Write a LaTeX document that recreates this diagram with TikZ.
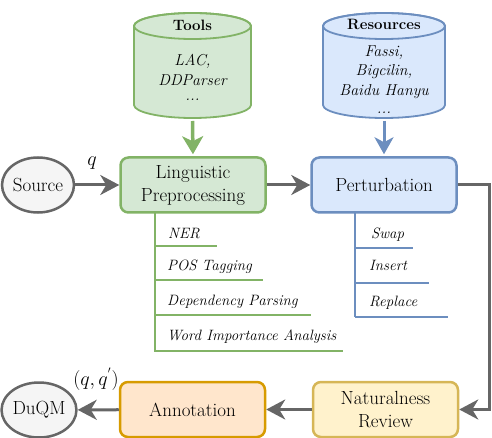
\RequirePackage{fix-cm}
\documentclass[tikz,border=0pt]{standalone}
\usepackage{fontspec}
\setmainfont{Latin Modern Roman}
\usetikzlibrary{arrows.meta,shapes.geometric}
\definecolor{gfill}{HTML}{D5E8D4}
\definecolor{gdraw}{HTML}{82B366}
\definecolor{bfill}{HTML}{DAE8FC}
\definecolor{bdraw}{HTML}{6C8EBF}
\definecolor{yfill}{HTML}{FFF2CC}
\definecolor{ydraw}{HTML}{D6B656}
\definecolor{ofill}{HTML}{FFE6CC}
\definecolor{odraw}{HTML}{D79B00}
\definecolor{efill}{HTML}{F5F5F5}
\definecolor{edraw}{HTML}{666666}
\begin{document}
\begin{tikzpicture}[x=1pt,y=-1pt,
  box/.style={draw, rounded corners=8pt, line width=2.5pt, minimum height=55pt,
    minimum width=145pt, align=center, inner sep=0pt,
    font=\fontsize{19}{23}\selectfont},
  gbox/.style={box, fill=gfill, draw=gdraw},
  bbox/.style={box, fill=bfill, draw=bdraw},
  ybox/.style={box, fill=yfill, draw=ydraw},
  obox/.style={box, fill=ofill, draw=odraw},
  ell/.style={ellipse, draw=edraw, fill=efill, line width=2.5pt, inner sep=0pt,
    minimum width=72pt, minimum height=55pt, font=\fontsize{19}{22}\selectfont},
  garrow/.style={draw=edraw, line width=3pt, -{Stealth[length=19pt,width=20pt,inset=6pt]}},
  cyl/.style={line width=1.8pt},
  cyltitle/.style={inner sep=0pt, font=\bfseries\fontsize{15}{18}\selectfont},
  cyltext/.style={inner sep=0pt, font=\itshape\fontsize{15.8}{18}\selectfont},
  subtext/.style={anchor=base west, font=\itshape\fontsize{15}{18}\selectfont, inner sep=0pt},
  gline/.style={draw=gdraw, line width=2.8pt},
  bline/.style={draw=bdraw, line width=2.8pt},
  mlabel/.style={inner sep=0pt, font=\fontsize{20}{20}\selectfont},
]
\useasboundingbox (0,0) rectangle (492,438);

% Tools cylinder
\path[cyl, fill=gfill, draw=gdraw] (134,26) -- (134,105)
  arc[start angle=180, end angle=360, x radius=58.5pt, y radius=13pt]
  -- (251,26)
  arc[start angle=0, end angle=180, x radius=58.5pt, y radius=13pt] -- cycle;
\draw[cyl, draw=gdraw] (192.5,26) ellipse [x radius=58.5pt, y radius=13pt];
\node[cyltitle] (toolst) at (192.5,25) {Tools};
\node[cyltext] (lac) at (192.5,61) {LAC,};
\node[cyltext] (ddp) at (192.5,80) {DDParser};
\node[cyltext] (tdots) at (192.5,100) {...};

% Resources cylinder
\path[cyl, fill=bfill, draw=bdraw] (323,26) -- (323,105)
  arc[start angle=180, end angle=360, x radius=61pt, y radius=13pt]
  -- (445,26)
  arc[start angle=0, end angle=180, x radius=61pt, y radius=13pt] -- cycle;
\draw[cyl, draw=bdraw] (384,26) ellipse [x radius=61pt, y radius=13pt];
\node[cyltitle] (rest) at (384,24) {Resources};
\node[cyltext] (fassi) at (384,53) {Fassi,};
\node[cyltext] (bigc) at (384,72) {Bigcilin,};
\node[cyltext] (baidu) at (384,92) {Baidu Hanyu};
\node[cyltext] (rdots) at (384,113) {...};

% main nodes
\node[gbox] (ling) at (193,185) {Linguistic\\Preprocessing};
\node[bbox] (pert) at (384,185) {Perturbation};
\node[ybox] (nat) at (385.5,409.5) {Naturalness\\Review};
\node[obox] (ann) at (192.5,409.5) {Annotation};
\node[ell] (src) at (38,185) {Source};
\node[ell] (duqm) at (39,410) {DuQM};

% feed arrows from cylinders
\coordinate (toolsb) at (192.5,121);
\coordinate (resb) at (384,121);
\draw[draw=gdraw, line width=3.5pt, -{Stealth[length=18pt,width=21pt,inset=5pt]}, shorten >=2pt] (toolsb) -- (ling.north);
\draw[draw=bdraw, line width=3pt, -{Stealth[length=17pt,width=19pt,inset=5pt]}, shorten >=2pt] (resb) -- (pert.north);

% flow arrows
\draw[garrow] (src) -- (ling);
\draw[garrow] (ling) -- (pert);
\coordinate (rc) at (489,185);
\draw[garrow] (pert.east) -- (rc) |- (nat.east);
\draw[garrow] (nat) -- (ann);
\draw[garrow] (ann) -- (duqm);

% labels
\node[mlabel] (ql) at (92,163) {$q$};
\node[mlabel] (qql) at (96,379) {$(q,q^{'})$};

% linguistic sub items
\draw[gline] (155,213) -- (155,352);
\draw[gline] (155,246) -- (217,246);
\draw[gline] (155,280) -- (263,280);
\draw[gline] (155,315) -- (311,315);
\draw[gline] (155,351) -- (343,351);
\node[subtext] (ner) at (168,238) {NER};
\node[subtext] (pos) at (167,270) {POS Tagging};
\node[subtext] (dep) at (167,305) {Dependency Parsing};
\node[subtext] (wia) at (167,340) {Word Importance Analysis};

% perturbation sub items
\draw[bline] (355,213) -- (355,317);
\draw[bline] (355,248) -- (413,248);
\draw[bline] (355,283) -- (429,283);
\draw[bline] (355,317) -- (448,317);
\node[subtext] (swap) at (371,238) {Swap};
\node[subtext] (ins) at (369,270) {Insert};
\node[subtext] (repl) at (369,306) {Replace};
\end{tikzpicture}
\end{document}
